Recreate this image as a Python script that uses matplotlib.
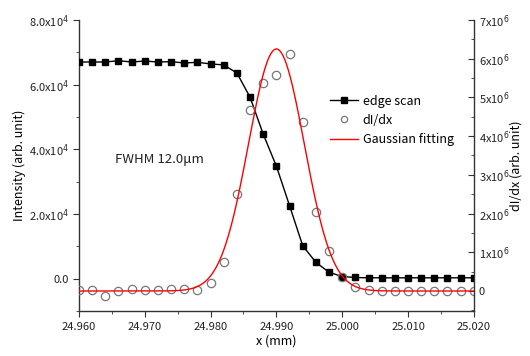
import numpy as np
import matplotlib
matplotlib.use("Agg")
import matplotlib.pyplot as plt
from matplotlib.ticker import MultipleLocator

plt.rcParams['font.family'] = ['Noto Sans CJK JP', 'DejaVu Sans']
plt.rcParams['mathtext.fontset'] = 'dejavusans'

# Positions (mm)
x_pos = [24.960, 24.962, 24.964, 24.966, 24.968, 24.970, 24.972, 24.974,
         24.976, 24.978, 24.980, 24.982, 24.984, 24.986, 24.988, 24.990,
         24.992, 24.994, 24.996, 24.998, 25.000, 25.002, 25.004, 25.006,
         25.008, 25.010, 25.012, 25.014, 25.016, 25.018, 25.020]

# Edge scan intensity (arb. unit)
edge_scan = [67000, 67000, 67000, 67400, 67000, 67300, 67000, 67100,
             66700, 66900, 66400, 66100, 63600, 56100, 44700, 34800,
             22600, 10200, 5100, 2000, 700, 400, 300, 300,
             300, 300, 300, 300, 300, 300, 300]

# Derivative dI/dx (arb. unit)
didx = [30000, 30000, -120000, 0, 60000, 20000, 20000, 60000,
        60000, 30000, 210000, 760000, 2500000, 4680000, 5360000, 5590000,
        6120000, 4370000, 2050000, 1040000, 370000, 110000, 30000, 0,
        0, 0, 0, 0, 0, 0, 0]

# Gaussian fit parameters
fit_center = 24.9900
fit_peak = 6.25e6
fit_fwhm = 0.0100

left_ticks = [0, 2e4, 4e4, 6e4, 8e4]
left_labels = ['0.0', '2.0x10$^4$', '4.0x10$^4$', '6.0x10$^4$', '8.0x10$^4$']
right_ticks = [0, 1e6, 2e6, 3e6, 4e6, 5e6, 6e6, 7e6]
right_labels = ['0'] + ['%dx10$^6$' % i for i in range(1, 8)]
x_ticks = [24.960, 24.970, 24.980, 24.990, 25.000, 25.010, 25.020]

fig = plt.figure(figsize=(5.3, 3.56), dpi=100)
ax = fig.add_axes([0.149, 0.126, 0.745, 0.818])
ax2 = ax.twinx()

# edge scan on left axis
l1, = ax.plot(x_pos, edge_scan, color='black', lw=1.0, marker='s',
              markersize=5, label='edge scan', zorder=3)

# derivative and gaussian fit on right axis
sigma = fit_fwhm / (2 * np.sqrt(2 * np.log(2)))
xf = np.linspace(24.960, 25.020, 600)
yf = fit_peak * np.exp(-(xf - fit_center) ** 2 / (2 * sigma ** 2))
l2, = ax2.plot(x_pos, didx, linestyle='none', marker='o', markersize=6,
               markerfacecolor='none', markeredgecolor='#777777',
               markeredgewidth=0.9, label='dI/dx')
l3, = ax2.plot(xf, yf, color='red', lw=1.0, label='Gaussian fitting')

ax.set_xlim(24.960, 25.020)
ax.set_ylim(-1e4, 8e4)
ax2.set_ylim(-0.52e6, 7e6)

ax.set_xticks(x_ticks)
ax.set_xticklabels(['%.3f' % v for v in x_ticks])
ax.xaxis.set_minor_locator(MultipleLocator(0.005))
ax.set_yticks(left_ticks)
ax.set_yticklabels(left_labels)
ax.yaxis.set_minor_locator(MultipleLocator(1e4))
ax2.set_yticks(right_ticks)
ax2.set_yticklabels(right_labels)
ax2.yaxis.set_minor_locator(MultipleLocator(0.5e6))

for a in (ax, ax2):
    a.spines['top'].set_visible(False)
    for s in a.spines.values():
        s.set_color('#333333')
        s.set_linewidth(1.0)
ax.spines['right'].set_visible(False)
ax2.spines['left'].set_visible(False)
ax2.spines['bottom'].set_visible(False)

ax.tick_params(axis='both', which='both', direction='out', labelsize=8,
               colors='#333333', labelcolor='#222222')
ax.tick_params(which='major', length=4)
ax.tick_params(which='minor', length=2.5)
ax2.tick_params(axis='y', which='both', direction='in', labelsize=8,
                colors='#333333', labelcolor='#222222')
ax2.tick_params(which='major', length=4)
ax2.tick_params(which='minor', length=2.5)

ax.set_xlabel('x (mm)', fontsize=9, labelpad=2)
ax.set_ylabel('Intensity (arb. unit)', fontsize=9, labelpad=2)
ax2.set_ylabel('dI/dx (arb. unit)', fontsize=9, labelpad=0)

ax.text(0.09, 0.51, 'FWHM 12.0μm', transform=ax.transAxes, fontsize=9.5,
        color='#222222')

ax2.legend([l1, l2, l3], ['edge scan', 'dI/dx', 'Gaussian fitting'],
           loc='upper left', bbox_to_anchor=(0.62, 0.765), frameon=False,
           fontsize=9, handlelength=2.2, handletextpad=0.4,
           labelspacing=0.5, markerscale=0.75, borderpad=0)

fig.savefig('out.png', dpi=100)
